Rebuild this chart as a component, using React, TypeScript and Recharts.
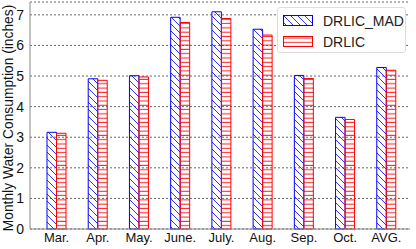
import { BarChart, Bar, XAxis, YAxis, CartesianGrid } from "recharts";

const months = ["Mar.", "Apr.", "May.", "June.", "July.", "Aug.", "Sep.", "Oct.", "AVG."];
const drlicMad = [3.16, 4.91, 5.01, 6.92, 7.1, 6.53, 5.02, 3.65, 5.28];
const drlic = [3.13, 4.86, 4.97, 6.75, 6.88, 6.34, 4.92, 3.58, 5.19];
const yTicks = [0, 1, 2, 3, 4, 5, 6, 7];

const data = months.map((m, i) => ({ month: m, mad: drlicMad[i], drlic: drlic[i] }));

const font = "'Liberation Sans', Arial, sans-serif";

function Swatch({ kind }: { kind: "blue" | "red" }) {
  return (
    <svg width={30} height={11} style={{ display: "block" }}>
      <defs>
        <pattern id={`lg-${kind}`} patternUnits="userSpaceOnUse" width={kind === "blue" ? 7 : 30} height={kind === "blue" ? 7 : 4.3}>
          {kind === "blue" ? (
            <path d="M0,0 L7,7 M-1,6 L1,8 M6,-1 L8,1" stroke="#0000ff" strokeWidth={0.8} />
          ) : (
            <line x1={0} y1={2} x2={30} y2={2} stroke="#ff0000" strokeWidth={0.8} />
          )}
        </pattern>
      </defs>
      <rect x={0.5} y={0.5} width={29} height={10} fill={`url(#lg-${kind})`} stroke={kind === "blue" ? "#0000ff" : "#ff0000"} />
    </svg>
  );
}

function LegendBox() {
  return (
    <div
      style={{
        position: "absolute",
        left: 277,
        top: 7,
        width: 129,
        height: 46,
        boxSizing: "border-box",
        background: "#fff",
        border: "1px solid #ddd",
        borderRadius: 3,
        padding: "2px 0 0 5px",
        fontFamily: font,
        fontSize: 14,
        color: "#222",
      }}
    >
      {[
        { k: "blue" as const, t: "DRLIC_MAD" },
        { k: "red" as const, t: "DRLIC" },
      ].map((r) => (
        <div key={r.t} style={{ display: "flex", alignItems: "center", height: 21 }}>
          <Swatch kind={r.k} />
          <span style={{ marginLeft: 10 }}>{r.t}</span>
        </div>
      ))}
    </div>
  );
}

const YLabel = () => (
  <text
    x={13}
    y={118}
    transform="rotate(-90 13 118)"
    textAnchor="middle"
    fontFamily={font}
    fontSize={13.8}
    fill="#111"
  >
    Monthly Water Consumption (inches)
  </text>
);

export default function App() {
  return (
    <div style={{ position: "absolute", left: 0, top: 0, width: 416, height: 249 }}>
      <BarChart
        width={416}
        height={249}
        data={data}
        margin={{ top: 2, right: 6, bottom: 0, left: 0 }}
        barSize={9.5}
        barGap={0}
      >
        <defs>
          <pattern id="hatchBlue" patternUnits="userSpaceOnUse" width={7} height={7}>
            <path d="M0,0 L7,7 M-1,6 L1,8 M6,-1 L8,1" stroke="#0000ff" strokeWidth={0.8} />
          </pattern>
          <pattern id="hatchRed" patternUnits="userSpaceOnUse" width={20} height={4.3}>
            <line x1={0} y1={2} x2={20} y2={2} stroke="#ff0000" strokeWidth={0.9} />
          </pattern>
        </defs>
        <CartesianGrid vertical={false} stroke="#666" strokeDasharray="2 2" />
        <XAxis
          dataKey="month"
          height={20}
          interval={0}
          padding={{ left: 6, right: 3 }}
          tickLine={false}
          tickSize={0}
          axisLine={{ stroke: "#888" }}
          tick={{ fontFamily: font, fontSize: 13, fill: "#111" }}
          tickMargin={4}
        />
        <XAxis xAxisId="top" orientation="top" dataKey="month" height={0} tick={false} tickLine={false} axisLine={{ stroke: "#888" }} />
        <YAxis
          width={30}
          domain={[0, 7.42]}
          ticks={yTicks}
          tickLine={false}
          tickSize={0}
          axisLine={{ stroke: "#888" }}
          tick={{ fontFamily: font, fontSize: 14, fill: "#111" }}
          tickMargin={6}
          label={<YLabel />}
        />
        <YAxis yAxisId="right" orientation="right" width={0} tick={false} tickLine={false} axisLine={{ stroke: "#888" }} />
        <Bar dataKey="mad" fill="url(#hatchBlue)" stroke="#0000ff" strokeWidth={1} isAnimationActive={false} />
        <Bar dataKey="drlic" fill="url(#hatchRed)" stroke="#ff0000" strokeWidth={1} isAnimationActive={false} />
      </BarChart>
      <LegendBox />
    </div>
  );
}
